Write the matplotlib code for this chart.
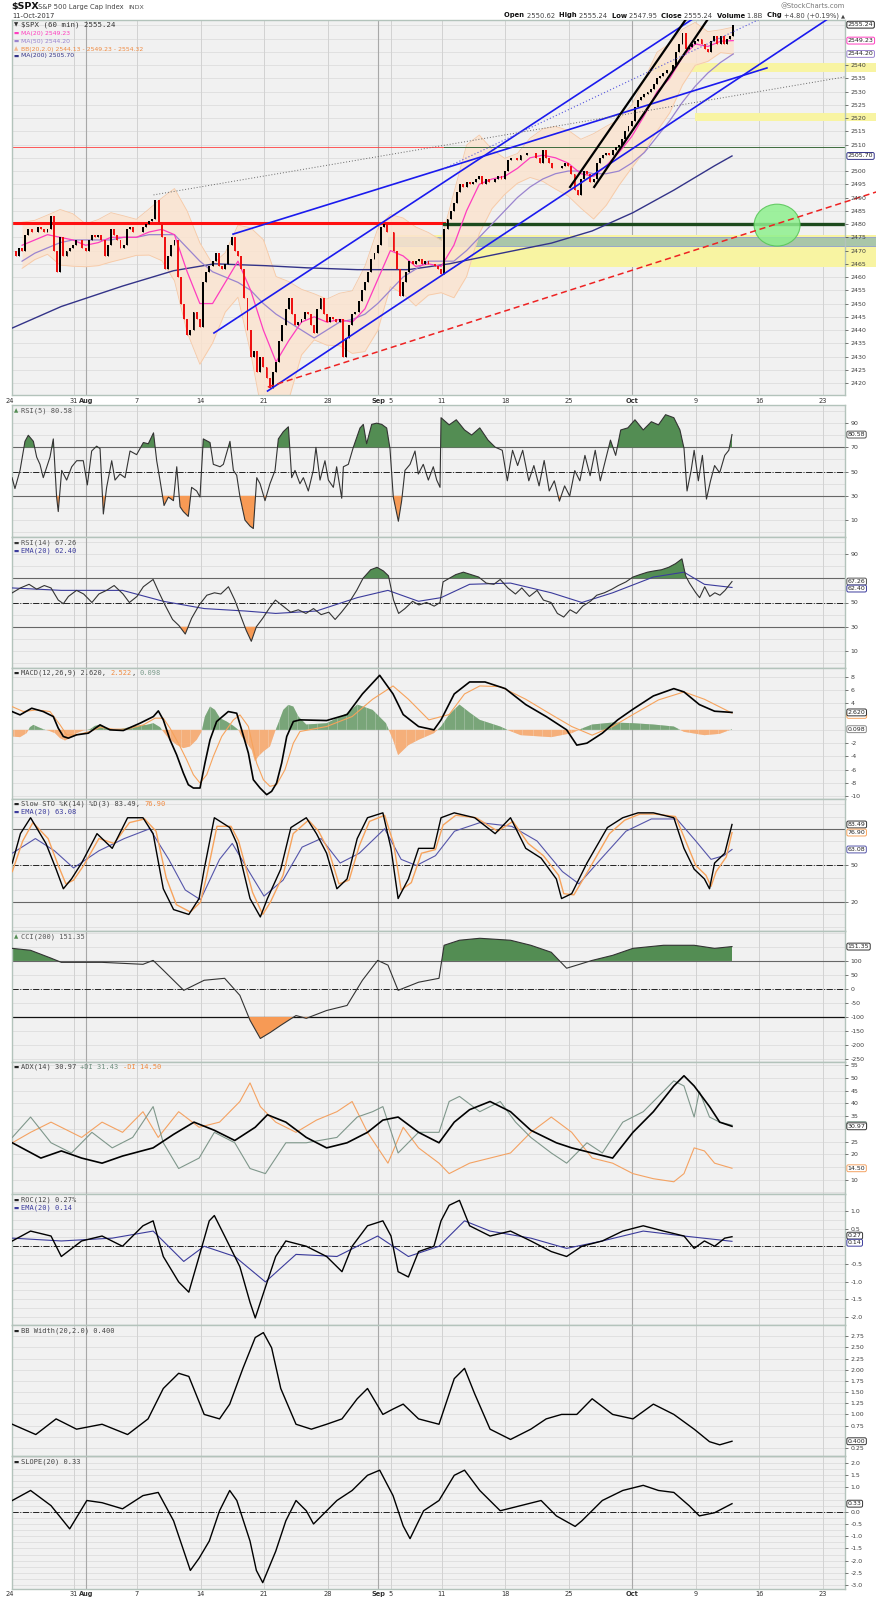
import numpy as np
import matplotlib
matplotlib.use("Agg")
import matplotlib.pyplot as plt
from matplotlib.patches import Ellipse, Rectangle, PathPatch

# ---------------------------------------------------------------- data
# trading-day axis: Jul 24 2017 = day 0 ... Oct 11 2017 = day 56
date_pos = [0, 5, 6, 10, 15, 20, 25, 29, 30, 34, 39, 44, 49, 54, 59, 64]
date_lab = ['24', '31', 'Aug', '7', '14', '21', '28', 'Sep', '5', '11', '18', '25', 'Oct', '9', '16', '23']
date_bold = ['Aug', 'Sep', 'Oct']
week_lines = [0, 5, 10, 15, 20, 25, 30, 34, 39, 44, 49, 54, 59, 64]
month_lines = [6, 29, 49]

# $SPX 60-min, four readings per session
price = [2470, 2468, 2471, 2470,  2476, 2478, 2477, 2477,  2479, 2478, 2477, 2478,
         2483, 2470, 2462, 2475,  2468, 2470, 2471, 2472,  2474, 2474, 2471, 2470,
         2474, 2476, 2475, 2476,  2474, 2468, 2472, 2478,  2476, 2474, 2471, 2472,
         2478, 2479, 2477, 2477,  2477, 2479, 2480, 2481,  2482, 2489, 2480, 2475,
         2463, 2468, 2472, 2474,  2460, 2450, 2444, 2438,  2440, 2447, 2444, 2441,
         2458, 2462, 2464, 2466,  2469, 2464, 2463, 2465,  2472, 2475, 2470, 2468,
         2463, 2452, 2440, 2430,  2432, 2424, 2430, 2426,  2422, 2418, 2424, 2428,
         2436, 2442, 2448, 2452,  2446, 2442, 2443, 2444,  2447, 2446, 2442, 2439,
         2448, 2452, 2446, 2443,  2445, 2444, 2443, 2444,  2430, 2437, 2442, 2446,
         2447, 2451, 2455, 2458,  2462, 2467, 2469, 2472,  2479, 2480, 2477, 2477,
         2470, 2463, 2453, 2458,  2462, 2466, 2465, 2466,  2467, 2465, 2466, 2465,
         2465, 2464, 2463, 2461,  2478, 2482, 2485, 2488,  2492, 2495, 2494, 2496,
         2495, 2496, 2497, 2498,  2495, 2497, 2496, 2496,  2497, 2498, 2497, 2500,
         2504, 2505, 2505, 2504,  2506, 2506, 2507, 2507,  2507, 2505, 2503, 2508,
         2505, 2503, 2501, 2501,  2501, 2502, 2503, 2502,  2499, 2493, 2491, 2497,
         2500, 2499, 2496, 2497,  2503, 2505, 2506, 2507,  2506, 2508, 2509, 2510,
         2512, 2515, 2517, 2519,  2524, 2527, 2528, 2529,  2530, 2531, 2533, 2535,
         2536, 2537, 2538, 2538,  2540, 2545, 2548, 2552,  2546, 2547, 2548, 2549,
         2550, 2548, 2546, 2545,  2549, 2551, 2548, 2551,  2548, 2550, 2551, 2555.24]

# daily (end of session) overlays
ma20 = [2472, 2474, 2476, 2475, 2474, 2472, 2473, 2475, 2475, 2475,
        2477, 2478, 2476, 2462, 2450, 2450, 2458, 2466, 2455, 2440,
        2428, 2436, 2443, 2445, 2443, 2444, 2443, 2448, 2459, 2470,
        2468, 2464, 2465, 2464, 2472, 2485, 2495, 2497, 2498, 2501,
        2505, 2506, 2505, 2503, 2499, 2498, 2502, 2507, 2513, 2521,
        2530, 2535, 2543, 2548, 2547, 2549, 2549.23]
bb_half = [8.7, 7.4, 7.4, 10.5, 9.9, 8.1, 8.7, 9.3, 8.1, 6.8,
           8.7, 11.8, 17.4, 22.9, 22.9, 14.9, 11.2, 13.6, 23.6, 34.1,
           32.2, 22.3, 12.4, 8.7, 8.7, 9.9, 11.8, 16.1, 19.2, 13.6,
           14.3, 14.9, 11.8, 9.9, 19.8, 24.8, 18.6, 11.2, 6.8, 5.6,
           7.4, 9.9, 11.8, 12.4, 13.0, 16.1, 14.9, 12.4, 11.8, 13.6,
           14.9, 13.0, 10.5, 8.1, 5.6, 4.3, 5.09]
ma50 = [2466, 2469, 2471, 2473, 2474, 2474, 2474, 2474, 2475, 2475,
        2476, 2476, 2476, 2471, 2466, 2462, 2460, 2458, 2455, 2450,
        2446, 2443, 2440, 2437, 2440, 2443, 2444, 2446, 2450, 2455,
        2460, 2463, 2466, 2466, 2466, 2470, 2475, 2480, 2485, 2490,
        2494, 2497, 2499, 2500, 2500, 2499, 2499, 2500, 2503, 2507,
        2513, 2519, 2526, 2532, 2537, 2541, 2544.2]
ma200 = [(0.0, 2440.4), (4.04, 2448.9), (8.86, 2456.6), (12.88, 2462.4), (16.09, 2465.0),
         (20.11, 2464.3), (23.33, 2463.5), (27.34, 2462.8), (31.37, 2462.8), (34.58, 2465.0),
         (39.41, 2469.7), (42.62, 2472.8), (45.84, 2477.4), (49.05, 2484.3), (52.27, 2492.8),
         (55.48, 2502.0), (56.85, 2505.7)]

# annotations drawn on the price panel (day, price)
blue_lines = [((16.06, 2438.9), (60.0, 2577.0)),
              ((20.28, 2417.0), (64.4, 2557.4)),
              ((17.56, 2476.2), (59.6, 2538.9))]
black_lines = [((44.1, 2494.0), (53.4, 2558.5)),
               ((46.0, 2494.0), (55.0, 2557.7))]
red_dash = ((20.3, 2418.5), (68.2, 2492.1))
gray_dots = ((11.3, 2491.0), (65.7, 2535.5))
blue_dots = ((34.2, 2501.0), (62.2, 2564.5))
yellow_bands = [(2537.4, 2540.8, 50.6), (2518.9, 2521.9, 53.9), (2463.8, 2475.8, 29.8)]
gray_band = (2471.7, 2475.0, 29.8)
level_split = 34.2
thick_level = 2480.5
thin_level = 2509.0
circle = (60.4, 2479.6, 3.62, 15.8)

rsi5 = [(0.16, 45), (0.39, 36), (0.79, 51), (1.18, 75), (1.44, 80), (1.84, 75), (2.1, 62), (2.36, 56),
        (2.62, 45), (3.15, 62), (3.41, 77), (3.67, 29), (3.8, 17), (4.07, 51), (4.46, 43), (4.86, 54),
        (5.25, 59), (5.77, 59), (6.09, 39), (6.43, 67), (6.82, 71), (7.09, 69), (7.35, 15), (7.61, 37),
        (8.01, 59), (8.27, 43), (8.66, 48), (9.06, 45), (9.45, 67), (9.97, 64), (10.5, 74), (10.89, 73),
        (11.3, 82), (11.55, 59), (11.81, 43), (12.13, 22), (12.47, 29), (12.87, 26), (13.13, 54),
        (13.39, 21), (13.65, 17), (14.04, 13), (14.3, 37), (14.7, 34), (14.96, 29), (15.22, 77),
        (15.75, 74), (16.01, 56), (16.54, 54), (16.8, 56), (17.32, 75), (17.59, 51), (17.85, 47),
        (18.11, 29), (18.5, 10), (18.9, 5), (19.16, 3), (19.43, 45), (19.69, 40), (20.08, 26),
        (20.47, 40), (20.87, 51), (21.13, 77), (21.52, 83), (21.92, 87), (22.18, 45), (22.44, 51),
        (22.83, 40), (23.1, 45), (23.49, 34), (23.88, 51), (24.09, 70), (24.41, 43), (24.8, 59),
        (25.07, 43), (25.46, 37), (25.72, 54), (26.12, 28), (26.25, 54), (26.64, 56), (27.03, 70),
        (27.56, 86), (27.82, 89), (28.08, 73), (28.48, 89), (28.87, 90), (29.27, 89), (29.66, 86),
        (29.92, 69), (30.18, 29), (30.58, 9), (30.84, 26), (31.1, 51), (31.5, 56), (31.89, 67),
        (32.15, 48), (32.54, 56), (32.94, 43), (33.33, 54), (33.6, 43), (33.86, 37), (33.94, 94.5),
        (34.58, 88.6), (35.14, 92.8), (35.79, 84.4), (36.35, 80.2), (36.99, 86.1), (37.64, 76),
        (38.2, 70.2), (38.76, 67.6), (39.16, 42.4), (39.57, 67.6), (39.97, 55), (40.37, 67.6),
        (40.85, 42.4), (41.25, 55), (41.66, 38.2), (42.06, 59.2), (42.46, 34), (42.86, 42.4),
        (43.26, 25.6), (43.67, 38.2), (44.07, 29.8), (44.47, 50.8), (44.87, 42.4), (45.27, 63.4),
        (45.68, 46.6), (46.08, 67.6), (46.48, 42.4), (46.88, 59.2), (47.28, 76), (47.69, 63.4),
        (48.09, 84.4), (48.65, 86.1), (49.21, 92.8), (49.86, 84.4), (50.5, 91.2), (51.06, 88.6),
        (51.62, 97), (52.27, 94.5), (52.75, 84.4), (53.07, 69.3), (53.31, 34), (53.63, 50.8),
        (53.87, 67.6), (54.2, 42.4), (54.52, 63.4), (54.84, 27.3), (55.16, 42.4), (55.48, 55),
        (55.88, 49), (56.28, 63.4), (56.6, 67.6), (56.85, 80.58)]

rsi14 = [(0.18, 58), (0.82, 62), (1.5, 65), (2.1, 61), (2.7, 64), (3.23, 62), (3.8, 52), (4.2, 49),
         (4.6, 55), (5.24, 60), (5.8, 57), (6.45, 50), (7.0, 57), (7.6, 60), (8.2, 64), (8.9, 57),
         (9.4, 50), (10.0, 55), (10.5, 63), (11.27, 69), (11.7, 59), (12.2, 48), (12.8, 36), (13.3, 31),
         (13.8, 24), (14.3, 37), (14.9, 48), (15.5, 56), (16.1, 58), (16.6, 57), (17.2, 63), (17.7, 52),
         (18.2, 38), (18.6, 27), (19.0, 18), (19.4, 30), (19.9, 37), (20.4, 45), (20.9, 52), (21.5, 47),
         (22.1, 42), (22.7, 44), (23.3, 41), (23.9, 45), (24.5, 40), (25.1, 42), (25.6, 36), (26.1, 42),
         (26.7, 50), (27.3, 60), (27.8, 70), (28.4, 77), (28.9, 79), (29.4, 76), (29.8, 72), (30.2, 52),
         (30.6, 41), (31.1, 45), (31.7, 51), (32.2, 48), (32.8, 50), (33.4, 47), (33.86, 50), (34.1, 67),
         (34.6, 70), (35.1, 73), (35.7, 75), (36.3, 73), (36.9, 71), (37.5, 66), (38.1, 65), (38.6, 69),
         (39.2, 62), (39.8, 57), (40.3, 62), (40.9, 55), (41.5, 60), (42.0, 52), (42.6, 50), (43.1, 41),
         (43.6, 38), (44.1, 44), (44.6, 41), (45.1, 47), (45.7, 51), (46.2, 56), (46.8, 58), (47.4, 61),
         (47.9, 64), (48.5, 67), (49.05, 71), (49.6, 73), (50.2, 75), (50.7, 76), (51.3, 77), (51.86, 79),
         (52.4, 82), (52.91, 86), (53.2, 72), (53.5, 66), (54.0, 58), (54.3, 54), (54.7, 63), (55.1, 55),
         (55.5, 58), (55.9, 56), (56.3, 60), (56.85, 67.26)]
rsi14_ema = [(0.18, 62), (4.04, 60), (8.86, 60), (12.07, 51), (15.29, 45), (18.5, 43), (20.92, 41),
             (24.13, 43), (27.34, 54), (29.76, 60), (32.17, 51), (33.94, 54), (36.19, 65), (39.41, 66),
             (42.62, 58), (45.03, 50), (47.45, 58), (50.66, 71), (53.07, 75), (54.68, 65), (56.85, 62.4)]

macd = [(0.16, 2.75), (0.79, 2.25), (1.71, 3.25), (2.62, 2.75), (3.41, 2.0), (3.8, 0.25), (4.2, -1.0),
        (4.59, -1.25), (5.25, -0.75), (6.17, -0.5), (7.09, 0.75), (7.87, 0.0), (8.92, -0.1), (10.24, 1.0),
        (11.29, 2.0), (11.68, 2.85), (12.07, 1.5), (12.6, -1.5), (13.12, -3.75), (13.65, -6.5),
        (14.04, -8.25), (14.44, -8.75), (14.96, -8.75), (15.35, -5.0), (15.75, -1.5), (16.27, 1.25),
        (17.19, 2.75), (17.85, 2.5), (18.24, 0.0), (18.77, -3.5), (19.16, -7.5), (19.69, -8.75),
        (20.21, -9.75), (20.6, -9.25), (20.99, -8.0), (21.39, -5.0), (21.79, -1.0), (22.31, 1.25),
        (22.83, 1.5), (24.93, 1.4), (26.54, 2.3), (27.75, 5.4), (29.11, 8.2), (30.16, 5.4),
        (30.96, 2.3), (32.17, 0.5), (33.38, 0.0), (33.94, 1.5), (34.98, 5.4), (36.19, 7.2),
        (37.4, 7.2), (39.0, 6.2), (40.61, 3.8), (42.22, 2.0), (43.83, 0.0), (44.63, -2.3),
        (45.43, -2.0), (46.64, -0.5), (47.85, 1.5), (49.05, 3.1), (50.66, 5.1), (52.27, 6.2),
        (53.07, 5.7), (54.28, 3.8), (55.48, 2.8), (56.85, 2.62)]
macd_sig = [(0.16, 3.5), (1.05, 2.75), (2.1, 3.0), (3.15, 2.75), (3.94, 0.75), (4.46, -0.75),
            (5.25, -0.75), (6.3, -0.25), (7.09, 0.4), (8.14, 0.1), (9.19, 0.1), (10.5, 0.75),
            (11.42, 1.75), (12.07, 1.75), (12.6, 0.25), (13.39, -2.5), (13.91, -4.5), (14.44, -6.75),
            (14.96, -8.0), (15.49, -6.75), (16.01, -4.0), (16.67, -1.0), (17.59, 1.5), (18.11, 2.25),
            (18.77, 0.5), (19.42, -5.0), (19.95, -7.5), (20.47, -8.5), (20.99, -8.25), (21.65, -6.0),
            (22.31, -2.0), (22.83, -0.25), (24.93, 0.5), (26.94, 2.0), (28.55, 4.6), (30.16, 6.6),
            (31.37, 4.6), (32.98, 1.5), (34.58, 2.3), (35.79, 5.4), (36.99, 6.6), (38.6, 6.5),
            (40.61, 4.6), (42.62, 2.3), (44.23, 0.5), (45.84, -0.8), (47.45, 0.5), (49.05, 2.3),
            (51.06, 4.5), (53.07, 5.7), (54.68, 4.6), (56.85, 2.52)]
macd_hist = [(0.16, -1.0), (0.79, -1.1), (1.31, -0.5), (1.57, 0.4), (1.84, 0.75), (2.23, 0.4),
             (2.62, 0.1), (3.02, -0.1), (3.54, -0.5), (3.94, -1.25), (4.33, -1.6), (4.72, -1.25),
             (5.25, -0.5), (5.77, -0.1), (6.3, 0.1), (6.69, 0.6), (7.09, 0.75), (7.61, 0.25),
             (8.14, -0.1), (8.66, 0.1), (9.45, 0.4), (9.97, 0.6), (10.76, 0.75), (11.29, 1.0),
             (11.81, 0.4), (12.07, -0.25), (12.47, -1.25), (13.12, -2.25), (13.65, -2.75),
             (14.17, -2.5), (14.7, -1.5), (15.09, -0.25), (15.35, 2.0), (15.75, 3.5), (16.14, 3.0),
             (16.54, 1.75), (17.06, 1.25), (17.59, 0.6), (17.98, 0.0), (18.24, -1.0), (18.64, -2.0),
             (19.03, -3.0), (19.29, -4.75), (19.55, -4.0), (19.95, -3.25), (20.47, -2.5),
             (20.87, -0.25), (21.13, 1.0), (21.52, 3.0), (21.92, 3.75), (22.31, 3.5), (22.71, 2.0),
             (23.33, 0.8), (24.93, 1.0), (26.54, 2.5), (27.34, 3.8), (28.55, 3.0), (29.6, 1.0),
             (30.16, -1.5), (30.56, -3.8), (31.37, -2.3), (32.17, -1.5), (33.38, -0.5), (33.94, 0.5),
             (34.58, 2.3), (35.39, 3.8), (36.19, 2.6), (36.99, 1.5), (38.6, 0.5), (39.41, -0.2),
             (40.21, -0.8), (42.62, -1.1), (44.23, -0.5), (45.03, 0.2), (45.84, 0.8), (47.45, 1.1),
             (49.05, 1.0), (50.66, 0.8), (52.27, 0.5), (53.07, -0.3), (54.68, -0.8), (55.88, -0.6),
             (56.85, 0.098)]

sto_k = [(0.18, 52), (0.82, 76), (1.62, 89), (2.83, 68), (3.63, 47), (4.2, 31), (4.84, 39), (5.64, 52),
         (6.85, 76), (8.05, 64), (9.26, 89), (10.47, 89), (11.27, 76), (12.07, 31), (12.88, 14),
         (14.08, 10), (14.89, 23), (15.29, 47), (16.09, 89), (17.3, 81), (17.86, 68), (18.9, 23),
         (19.71, 8), (20.27, 23), (21.32, 47), (22.12, 81), (23.33, 89), (24.13, 76), (24.93, 60),
         (25.74, 31), (26.54, 39), (27.34, 72), (28.15, 89), (29.36, 93), (30.0, 64), (30.56, 23),
         (31.37, 39), (32.17, 64), (33.38, 64), (33.94, 89), (34.98, 93), (36.59, 89), (38.2, 76),
         (39.41, 89), (40.61, 64), (41.82, 56), (43.02, 39), (43.43, 23), (44.23, 27), (45.43, 52),
         (47.04, 81), (48.25, 89), (49.45, 93), (50.66, 93), (52.27, 89), (53.07, 64), (53.87, 47),
         (54.68, 39), (55.08, 31), (55.48, 52), (56.28, 60), (56.85, 83.49)]
sto_d = [(0.18, 45), (1.0, 70), (1.8, 85), (3.0, 72), (3.8, 50), (4.4, 35), (5.0, 38), (5.8, 50),
         (7.0, 72), (8.2, 68), (9.4, 85), (10.6, 88), (11.5, 78), (12.3, 40), (13.1, 18), (14.2, 12),
         (15.0, 20), (15.5, 42), (16.3, 82), (17.4, 82), (18.0, 70), (19.1, 28), (19.9, 10), (20.5, 20),
         (21.5, 42), (22.3, 76), (23.5, 87), (24.3, 78), (25.1, 62), (25.9, 35), (26.7, 38), (27.5, 66),
         (28.3, 86), (29.5, 91), (30.2, 68), (30.8, 30), (31.6, 36), (32.4, 60), (33.5, 63), (34.1, 83),
         (35.1, 91), (36.7, 89), (38.4, 78), (39.6, 86), (40.8, 68), (42.0, 58), (43.2, 42), (43.6, 27),
         (44.4, 26), (45.6, 47), (47.2, 76), (48.4, 87), (49.6, 92), (50.8, 92), (52.4, 90), (53.2, 70),
         (54.0, 50), (54.8, 42), (55.2, 33), (55.6, 45), (56.4, 57), (56.85, 76.9)]
sto_ema = [(0.18, 60), (2.0, 72), (3.5, 62), (5.0, 48), (7.0, 62), (9.0, 72), (11.0, 80), (12.5, 55),
           (13.8, 30), (15.0, 22), (16.5, 55), (17.5, 68), (19.0, 42), (20.0, 25), (21.5, 38), (23.0, 65),
           (24.5, 72), (26.0, 52), (27.5, 60), (29.5, 80), (30.8, 55), (32.0, 50), (33.5, 58), (35.0, 78),
           (37.0, 85), (39.5, 82), (41.5, 70), (43.5, 45), (44.8, 35), (46.5, 55), (48.5, 78), (50.5, 88),
           (52.5, 88), (54.0, 70), (55.2, 55), (56.2, 58), (56.85, 63.08)]

cci = [(0.18, 145), (1.62, 138), (3.23, 110), (4.04, 95), (7.25, 95), (10.47, 88), (11.27, 102),
       (12.07, 67), (13.68, -5), (15.29, 31), (16.9, 38), (18.1, -23), (18.9, -112), (19.71, -177),
       (20.51, -155), (21.32, -130), (22.52, -95), (23.33, -105), (24.93, -77), (26.54, -59),
       (27.75, 31), (28.95, 102), (29.76, 85), (30.56, -5), (32.17, 24), (33.78, 38), (34.18, 156),
       (35.39, 174), (36.99, 181), (39.41, 174), (41.01, 156), (42.62, 131), (43.83, 74), (44.63, 85),
       (45.84, 102), (47.45, 120), (49.05, 145), (51.46, 156), (53.87, 156), (55.48, 145), (56.85, 151.35)]

adx = [(0.18, 24.5), (2.43, 18.5), (4.04, 21.3), (5.64, 18.5), (7.25, 16.5), (8.86, 19.3), (11.27, 22.5),
       (12.88, 27.8), (14.49, 32.6), (16.09, 29.4), (17.7, 25.4), (19.31, 30.6), (20.27, 35.5),
       (21.72, 32.6), (23.33, 26.6), (24.93, 22.5), (26.54, 24.5), (28.15, 28.6), (29.36, 33.4),
       (30.56, 34.6), (32.17, 28.6), (33.78, 24.5), (34.98, 32.6), (36.19, 37.5), (37.8, 40.7),
       (39.41, 36.7), (41.01, 29.4), (43.02, 24.5), (44.23, 22.5), (45.84, 20.5), (47.45, 18.5),
       (49.05, 28.6), (50.66, 36.7), (52.27, 46.8), (53.07, 50.8), (53.87, 46.8), (55.08, 38.7),
       (55.88, 32.6), (56.85, 30.97)]
plus_di = [(0.18, 26.6), (1.62, 34.6), (3.23, 24.5), (4.84, 20.5), (6.45, 28.6), (8.05, 22.5), (9.66, 26.6),
           (11.27, 38.7), (12.07, 24.5), (13.28, 14.4), (14.89, 18.5), (16.09, 28.6), (17.7, 24.5),
           (18.9, 14.4), (20.11, 12.4), (21.72, 24.5), (23.33, 24.5), (25.74, 26.6), (27.34, 34.6),
           (28.55, 36.7), (29.36, 38.7), (30.56, 20.5), (32.17, 28.6), (33.78, 28.6), (34.58, 40.7),
           (35.39, 42.7), (36.99, 36.7), (38.6, 40.7), (39.81, 32.6), (41.01, 26.6), (42.62, 20.5),
           (43.83, 16.5), (45.43, 24.5), (46.64, 20.5), (48.25, 32.6), (49.86, 36.7), (51.46, 44.7),
           (52.27, 48.8), (53.07, 46.8), (53.87, 34.6), (54.28, 44.7), (55.08, 34.6), (55.88, 32.6),
           (56.85, 31.43)]
minus_di = [(0.18, 24.5), (1.62, 28.6), (3.23, 32.6), (5.64, 26.6), (7.25, 32.6), (8.86, 28.6), (10.47, 36.7),
            (11.67, 26.6), (13.28, 36.7), (14.89, 30.6), (16.5, 32.6), (18.1, 40.7), (18.9, 48.0),
            (19.71, 38.7), (20.92, 32.6), (22.52, 28.6), (24.13, 33.4), (25.74, 36.7), (26.94, 40.7),
            (28.15, 28.6), (29.76, 16.5), (30.96, 30.6), (32.17, 22.5), (33.78, 16.5), (34.58, 12.4),
            (36.19, 16.5), (37.8, 18.5), (39.41, 20.5), (41.01, 28.6), (42.62, 34.6), (44.23, 28.6),
            (45.84, 18.5), (47.45, 16.5), (49.05, 12.4), (50.66, 10.4), (52.27, 9.2), (53.07, 12.4),
            (53.87, 22.5), (54.68, 21.3), (55.48, 16.5), (56.85, 14.5)]

roc = [(0.18, 0.15), (1.62, 0.43), (3.23, 0.29), (4.04, -0.29), (5.64, 0.15), (7.25, 0.29), (8.86, 0.0),
       (10.47, 0.58), (11.27, 0.72), (12.07, -0.29), (13.28, -1.01), (14.08, -1.3), (14.89, -0.29),
       (15.69, 0.72), (16.09, 0.87), (16.9, 0.29), (18.1, -0.58), (18.9, -1.59), (19.31, -2.03),
       (20.11, -1.16), (20.92, -0.29), (21.72, 0.15), (23.33, 0.0), (24.93, -0.29), (26.14, -0.72),
       (26.94, 0.0), (28.15, 0.58), (29.36, 0.72), (30.0, 0.29), (30.56, -0.72), (31.37, -0.87),
       (32.17, -0.15), (33.38, 0.0), (33.94, 0.72), (34.58, 1.16), (35.39, 1.3), (36.19, 0.58),
       (37.8, 0.29), (39.41, 0.43), (41.01, 0.15), (42.62, -0.15), (43.83, -0.29), (45.03, 0.0),
       (46.64, 0.15), (48.25, 0.43), (49.86, 0.58), (51.46, 0.43), (53.07, 0.29), (53.87, -0.06),
       (54.68, 0.15), (55.48, 0.0), (56.28, 0.23), (56.85, 0.27)]
roc_ema = [(0.18, 0.23), (4.04, 0.15), (8.05, 0.23), (11.27, 0.43), (13.68, -0.43), (15.29, 0.0),
           (17.7, -0.29), (20.11, -1.01), (22.52, -0.23), (25.74, -0.29), (28.95, 0.29), (31.37, -0.29),
           (33.78, 0.0), (35.79, 0.72), (37.8, 0.43), (41.01, 0.23), (43.83, -0.06), (46.64, 0.15),
           (49.86, 0.43), (53.07, 0.29), (56.85, 0.14)]

bbw = [(0.18, 0.78), (2.03, 0.55), (3.63, 0.9), (5.24, 0.67), (7.25, 0.78), (9.26, 0.55), (10.87, 0.9),
       (12.07, 1.58), (13.28, 1.92), (14.08, 1.85), (15.29, 1.0), (16.5, 0.9), (17.3, 1.23), (18.34, 2.03),
       (19.31, 2.72), (19.95, 2.83), (20.6, 2.49), (21.32, 1.58), (22.52, 0.78), (23.73, 0.67),
       (24.93, 0.78), (26.14, 0.9), (27.34, 1.35), (28.15, 1.58), (29.36, 1.0), (30.16, 1.12),
       (30.96, 1.23), (32.17, 0.9), (33.78, 0.78), (34.98, 1.8), (35.79, 2.03), (36.59, 1.46),
       (37.8, 0.67), (39.41, 0.44), (41.01, 0.67), (42.22, 0.9), (43.43, 1.0), (44.63, 1.0),
       (45.84, 1.35), (47.45, 1.0), (49.05, 0.9), (50.66, 1.23), (52.27, 1.0), (53.87, 0.67),
       (55.08, 0.39), (55.88, 0.32), (56.85, 0.40)]

slope = [(0.18, 0.46), (1.62, 0.87), (3.23, 0.25), (4.7, -0.7), (6.05, 0.46), (7.25, 0.37), (8.86, 0.12),
         (10.47, 0.66), (11.67, 0.79), (12.88, -0.37), (14.2, -2.4), (14.89, -1.9), (15.69, -1.2),
         (16.5, 0.04), (17.3, 0.87), (17.86, 0.46), (18.9, -1.2), (19.4, -2.4), (19.9, -2.9),
         (20.92, -1.62), (21.72, -0.37), (22.52, 0.46), (23.33, 0.04), (23.9, -0.5), (25.74, 0.46),
         (26.94, 0.87), (28.15, 1.49), (29.11, 1.7), (30.16, 0.66), (30.96, -0.58), (31.5, -1.1),
         (32.57, 0.04), (33.78, 0.46), (34.98, 1.49), (35.79, 1.7), (36.99, 0.87), (38.6, 0.04),
         (40.21, 0.25), (41.82, 0.46), (43.02, -0.17), (44.5, -0.6), (45.03, -0.37), (46.64, 0.46),
         (48.25, 0.87), (49.86, 1.08), (51.06, 0.87), (52.27, 0.79), (53.47, 0.25), (54.28, -0.17),
         (55.48, -0.04), (56.85, 0.33)]

# ---------------------------------------------------------------- layout
W, H = 876, 1600
fig = plt.figure(figsize=(W / 100, H / 100), dpi=100)
fig.patch.set_facecolor('white')
rend = fig.canvas.get_renderer()

PX0, PX1 = 12, 845


def dx(px):
    return (px - 10) / 12.7


XL, XR, XEDGE = dx(PX0), dx(PX1), dx(W)
GREEN = '#538d53'
ORANGE = '#f79a55'
NAVY = '#3b3b9c'
TXT = '#404040'
MONO = 'DejaVu Sans Mono'
LEG = 5.0      # indicator legend size (monospace)
TICK = 4.5


def panel(top, bottom, ylim, step, ticks, fmt='{:g}'):
    ax = fig.add_axes([PX0 / W, 1 - bottom / H, (PX1 - PX0) / W, (bottom - top) / H])
    ax.set_facecolor('#f1f1f1')
    ax.set_xlim(XL, XR)
    ax.set_ylim(*ylim)
    ax.set_xticks([])
    ax.yaxis.tick_right()
    ax.set_yticks(ticks)
    ax.set_yticklabels([fmt.format(t) for t in ticks])
    ax.tick_params(axis='y', labelsize=TICK, colors=TXT, length=2.5, width=0.5, pad=1.5)
    for s in ax.spines.values():
        s.set_color('#b3c3bb')
        s.set_linewidth(1.0)
    g0 = np.ceil(ylim[0] / step) * step
    for g in np.arange(g0, ylim[1], step):
        ax.axhline(g, color='#dddddd', lw=0.6, zorder=0.5)
    for d in week_lines:
        ax.axvline(d, color='#d2d2d2', lw=0.7, zorder=0.5)
    for d in month_lines:
        ax.axvline(d, color='#a8a8a8', lw=0.8, zorder=0.6)
    ax.yaxis.set_zorder(10)
    return ax


def seq(x, y, parts, size=LEG, family=MONO):
    for txt, col in parts:
        t = fig.text(x / W, 1 - y / H, txt, fontsize=size, color=col, va='center', ha='left',
                     family=family)
        x += t.get_window_extent(rend).width
    return x


def legend(y, parts, icon_col, icon='\u25ac', size=LEG, family=MONO):
    fig.text(14 / W, 1 - y / H, icon, fontsize=4.0, color=icon_col, va='center', ha='left')
    seq(21, y, parts, size, family)


def seq_right(xend, y, parts):
    texts = []
    for txt, col, size, wt in parts:
        texts.append(fig.text(0, 1 - y / H, txt, fontsize=size, color=col, fontweight=wt,
                              va='center', ha='left'))
    widths = [t.get_window_extent(rend).width for t in texts]
    x = xend - sum(widths)
    for t, w in zip(texts, widths):
        t.set_x(x / W)
        x += w


def tag(ax, val, text, ec, tc='#222222'):
    ax.annotate(text, xy=(1.0, val), xycoords=('axes fraction', 'data'), xytext=(2.0, 0),
                textcoords='offset points', fontsize=4.5, color=tc, va='center', ha='left',
                annotation_clip=False, zorder=20,
                bbox=dict(boxstyle='round,pad=0.15,rounding_size=0.25', fc='white', ec=ec, lw=0.7))


def xy(series):
    a = np.array(series, dtype=float)
    return a[:, 0], a[:, 1]


def stripes(ax, coll, ylim):
    # thin gaps so the histogram area reads as individual hourly bars
    for path in coll.get_paths():
        clip = PathPatch(path, transform=ax.transData, fc='none', ec='none')
        ax.add_patch(clip)
        lc = ax.vlines(np.arange(0, 57, 1 / 7), ylim[0], ylim[1], colors='#f1f1f1', lw=0.35, zorder=2.1)
        lc.set_clip_path(clip)


def date_row(y):
    for d, lab in zip(date_pos, date_lab):
        fig.text((10 + 12.7 * d) / W, 1 - y / H, lab, fontsize=4.8, color='#333333', ha='center',
                 va='center', fontweight='bold' if lab in date_bold else 'normal')


# ---------------------------------------------------------------- header
fig.text(11 / W, 1 - 7 / H, '\\$SPX', fontsize=6.8, color='#111111', fontweight='bold', va='center')
fig.text(38 / W, 1 - 7.5 / H, 'S&P 500 Large Cap Index', fontsize=4.9, color='#444444', va='center')
fig.text(128 / W, 1 - 7.5 / H, 'INDX', fontsize=4.5, color='#555555', va='center')
fig.text(12 / W, 1 - 15.5 / H, '11-Oct-2017', fontsize=4.9, color='#333333', va='center')
fig.text(845 / W, 1 - 6 / H, '@StockCharts.com', fontsize=4.9, color='#777777', va='center', ha='right')
HS = 4.85
seq_right(845, 15.5, [('Open ', '#111', HS, 'bold'), ('2550.62  ', '#444', HS, 'normal'),
                      ('High ', '#111', HS, 'bold'), ('2555.24  ', '#444', HS, 'normal'),
                      ('Low ', '#111', HS, 'bold'), ('2547.95  ', '#444', HS, 'normal'),
                      ('Close ', '#111', HS, 'bold'), ('2555.24  ', '#444', HS, 'normal'),
                      ('Volume ', '#111', HS, 'bold'), ('1.8B  ', '#444', HS, 'normal'),
                      ('Chg ', '#111', HS, 'bold'), ('+4.80 (+0.19%) ', '#444', HS, 'normal'),
                      ('\u25b2', '#444', 3.8, 'normal')])

# ---------------------------------------------------------------- price panel
main_ticks = [v for v in range(2420, 2545, 5) if v != 2505]
ax = panel(20, 395, (2415.5, 2557), 5, main_ticks)
days = np.arange(len(ma20)) + 0.95
for lo, hi, x0 in yellow_bands:
    ax.add_patch(Rectangle((x0, lo), XEDGE - x0, hi - lo, fc='#f8f4a2', ec='none', clip_on=False, zorder=1))
ax.add_patch(Rectangle((gray_band[2], gray_band[0]), XEDGE - gray_band[2], gray_band[1] - gray_band[0],
                       fc='#a9c6a9', ec='#8f9fd0', lw=0.6, clip_on=False, zorder=1.1))
mid = np.array(ma20)
half = np.array(bb_half)
ax.fill_between(days, mid - half, mid + half, color='#fbe3cf', alpha=0.85, lw=0, zorder=1.5)
ax.plot(days, mid + half, color='#f6c9a6', lw=0.6, zorder=1.6)
ax.plot(days, mid - half, color='#f6c9a6', lw=0.6, zorder=1.6)
ax.plot([XL, level_split], [thick_level, thick_level], color='#ff1010', lw=2.2, zorder=2)
ax.plot([level_split, XR], [thick_level - 0.5, thick_level - 0.5], color='#1d4a1d', lw=2.4, zorder=2)
ax.plot([XL, level_split], [thin_level, thin_level], color='#ff4040', lw=0.6, zorder=2)
ax.plot([level_split, XR], [thin_level, thin_level], color='#3d6b3d', lw=0.7, zorder=2)
t200, v200 = xy(ma200)
ax.plot(t200, v200, color='#333388', lw=1.0, zorder=3)
ax.plot(days, ma50, color='#9a84cf', lw=0.9, zorder=3)
ax.plot(days, ma20, color='#ff3cbf', lw=0.9, zorder=3)

p = np.array(price, dtype=float)
nd = len(p) // 4
tp = np.repeat(np.arange(nd), 4) + np.tile([0.2, 0.45, 0.7, 0.95], nd)
op = np.r_[p[0], p[:-1]]
up = p >= op
ax.vlines(tp, op, p, colors=np.where(up, 'black', '#ee1111'), lw=0.6, zorder=4)
ax.bar(tp[up], p[up] - op[up], bottom=op[up], width=0.15, color='black', lw=0, zorder=4)
ax.bar(tp[~up], p[~up] - op[~up], bottom=op[~up], width=0.15, color='#ee1111', lw=0, zorder=4)

ax.add_patch(Ellipse((circle[0], circle[1]), circle[2], circle[3], fc='#8ff08f', ec='#55c455',
                     lw=0.8, alpha=0.85, zorder=4.5))
for (a, b) in blue_lines:
    ax.plot([a[0], b[0]], [a[1], b[1]], color='#1a1aee', lw=1.2, zorder=5)
for (a, b) in black_lines:
    ax.plot([a[0], b[0]], [a[1], b[1]], color='black', lw=1.6, zorder=5)
ax.plot([red_dash[0][0], red_dash[1][0]], [red_dash[0][1], red_dash[1][1]], color='#ee2222', lw=1.1,
        ls=(0, (4, 2.5)), zorder=5, clip_on=False)
ax.plot([gray_dots[0][0], gray_dots[1][0]], [gray_dots[0][1], gray_dots[1][1]], color='#666666', lw=0.7,
        ls=(0, (1, 2)), zorder=5)
ax.plot([blue_dots[0][0], blue_dots[1][0]], [blue_dots[0][1], blue_dots[1][1]], color='#5555dd', lw=0.8,
        ls=(0, (1, 2)), zorder=5)

tag(ax, 2555.24, '2555.24', '#222222')
tag(ax, 2549.23, '2549.23', '#ff3cbf')
tag(ax, 2544.20, '2544.20', '#9a84cf')
tag(ax, 2505.70, '2505.70', '#333388')
ML = 4.4
legend(25, [('\\$SPX (60 min) 2555.24', '#333333')], '#333333', icon='\u25bc', size=5.3)
legend(33, [('MA(20) 2549.23', '#ff3cbf')], '#ff3cbf', size=ML, family='DejaVu Sans')
legend(41, [('MA(50) 2544.20', '#9a84cf')], '#9a84cf', size=ML, family='DejaVu Sans')
legend(49, [('BB(20,2.0) 2544.13 - 2549.23 - 2554.32', '#f08a40')], '#f6b68a', icon='\u25b2', size=ML,
       family='DejaVu Sans')
legend(56, [('MA(200) 2505.70', '#333388')], '#333388', size=ML, family='DejaVu Sans')
date_row(401)

# ---------------------------------------------------------------- RSI(5)
ax = panel(405, 537, (-4, 105), 10, [10, 30, 50, 70, 90])
t, v = xy(rsi5)
ax.fill_between(t, v, 70, where=v >= 70, interpolate=True, color=GREEN, lw=0, zorder=2)
ax.fill_between(t, v, 30, where=v <= 30, interpolate=True, color=ORANGE, lw=0, zorder=2)
ax.axhline(70, color='#666666', lw=0.8, zorder=1)
ax.axhline(30, color='#666666', lw=0.8, zorder=1)
ax.axhline(50, color='#222222', lw=0.7, ls='-.', zorder=1)
ax.plot(t, v, color='#333333', lw=0.8, zorder=3)
tag(ax, 80.58, '80.58', '#555555')
legend(411, [('RSI(5) 80.58', '#555555')], GREEN, icon='\u25b2')

# ---------------------------------------------------------------- RSI(14)
ax = panel(537, 668, (-4, 104), 10, [10, 30, 50, 90])
t, v = xy(rsi14)
ax.fill_between(t, v, 70, where=v >= 70, interpolate=True, color=GREEN, lw=0, zorder=2)
ax.fill_between(t, v, 30, where=v <= 30, interpolate=True, color=ORANGE, lw=0, zorder=2)
ax.axhline(70, color='#666666', lw=0.8, zorder=1)
ax.axhline(30, color='#666666', lw=0.8, zorder=1)
ax.axhline(50, color='#222222', lw=0.7, ls='-.', zorder=1)
te, ve = xy(rsi14_ema)
ax.plot(te, ve, color=NAVY, lw=0.8, zorder=3)
ax.plot(t, v, color='#333333', lw=0.8, zorder=3)
tag(ax, 67.26, '67.26', '#555555')
tag(ax, 61.5, '62.40', NAVY)
legend(543, [('RSI(14) 67.26', '#555555')], '#333333')
legend(551, [('EMA(20) 62.40', NAVY)], NAVY)

# ---------------------------------------------------------------- MACD
macd_lim = (-10.4, 9.3)
ax = panel(668, 799, macd_lim, 2, [8, 6, 4, -2, -4, -6, -8, -10])
t, v = xy(macd_hist)
pos = ax.fill_between(t, v, 0, where=v >= 0, interpolate=True, color=GREEN, lw=0, zorder=2)
neg = ax.fill_between(t, v, 0, where=v <= 0, interpolate=True, color=ORANGE, lw=0, zorder=2)
stripes(ax, pos, macd_lim)
stripes(ax, neg, macd_lim)
ts, vs = xy(macd_sig)
ax.plot(ts, vs, color='#f7a35c', lw=0.8, zorder=3)
t, v = xy(macd)
ax.plot(t, v, color='black', lw=1.2, zorder=3)
tag(ax, 2.25, '2.522', '#f7a35c')
tag(ax, 2.62, '2.620', '#333333')
tag(ax, 0.098, '0.098', '#888888')
legend(673, [('MACD(12,26,9) 2.620, ', '#444444'), ('2.522', '#f08a40'), (', ', '#444444'),
             ('0.098', '#7a9a8a')], '#222222')

# ---------------------------------------------------------------- Slow STO
ax = panel(799, 931, (-3.5, 104.3), 10, [50, 20])
ax.axhline(80, color='#666666', lw=0.8, zorder=1)
ax.axhline(20, color='#666666', lw=0.8, zorder=1)
ax.axhline(50, color='#222222', lw=0.7, ls='-.', zorder=1)
te, ve = xy(sto_ema)
ax.plot(te, ve, color='#5555aa', lw=0.8, zorder=3)
td, vd = xy(sto_d)
ax.plot(td, vd, color='#f7a35c', lw=1.0, zorder=3)
t, v = xy(sto_k)
ax.plot(t, v, color='black', lw=1.0, zorder=3)
tag(ax, 83.49, '83.49', '#333333')
tag(ax, 76.90, '76.90', '#f7a35c')
tag(ax, 63.08, '63.08', '#5555aa')
legend(804, [('Slow STO %K(14) %D(3) 83.49, ', '#444444'), ('76.90', '#f08a40')], '#222222')
legend(812, [('EMA(20) 63.08', NAVY)], NAVY)

# ---------------------------------------------------------------- CCI(200)
ax = panel(931, 1062, (-261, 207), 50, [100, 50, 0, -50, -100, -150, -200, -250])
t, v = xy(cci)
ax.fill_between(t, v, 100, where=v >= 100, interpolate=True, color=GREEN, lw=0, zorder=2)
ax.fill_between(t, v, -100, where=v <= -100, interpolate=True, color=ORANGE, lw=0, zorder=2)
ax.axhline(100, color='#666666', lw=0.8, zorder=1)
ax.axhline(-100, color='#111111', lw=0.9, zorder=1)
ax.axhline(0, color='#222222', lw=0.7, ls='-.', zorder=1)
ax.plot(t, v, color='#333333', lw=0.8, zorder=3)
tag(ax, 151.35, '151.35', '#333333')
legend(937, [('CCI(200) 151.35', '#555555')], GREEN, icon='\u25b2')

# ---------------------------------------------------------------- ADX
ax = panel(1062, 1194, (4.4, 56.2), 5, [55, 50, 45, 40, 35, 25, 20, 10])
t, v = xy(minus_di)
ax.plot(t, v, color='#f4a262', lw=0.8, zorder=3)
t, v = xy(plus_di)
ax.plot(t, v, color='#7f978b', lw=0.8, zorder=3)
t, v = xy(adx)
ax.plot(t, v, color='black', lw=1.2, zorder=3)
tag(ax, 31.43, '31.43', '#7f978b')
tag(ax, 30.97, '30.97', '#333333')
tag(ax, 14.50, '14.50', '#f4a262')
legend(1067, [('ADX(14) 30.97 ', '#444444'), ('+DI 31.43 ', '#6f8f7f'), ('-DI 14.50', '#f08a40')], '#222222')

# ---------------------------------------------------------------- ROC
ax = panel(1194, 1325, (-2.23, 1.48), 0.25, [1.0, 0.5, -0.5, -1.0, -1.5, -2.0], fmt='{:.1f}')
ax.axhline(0, color='#222222', lw=0.7, ls='-.', zorder=1)
te, ve = xy(roc_ema)
ax.plot(te, ve, color=NAVY, lw=0.8, zorder=3)
t, v = xy(roc)
ax.plot(t, v, color='black', lw=1.0, zorder=3)
tag(ax, 0.30, '0.27', '#333333')
tag(ax, 0.10, '0.14', NAVY)
legend(1200, [('ROC(12) 0.27%', '#444444')], '#222222')
legend(1208, [('EMA(20) 0.14', NAVY)], NAVY)

# ---------------------------------------------------------------- BB Width
ax = panel(1325, 1456, (0.07, 3.0), 0.25, [2.75, 2.5, 2.25, 2.0, 1.75, 1.5, 1.25, 1.0, 0.75, 0.25],
           fmt='{:.2f}')
t, v = xy(bbw)
ax.plot(t, v, color='black', lw=1.0, zorder=3)
tag(ax, 0.40, '0.400', '#333333')
legend(1331, [('BB Width(20,2.0) 0.400', '#444444')], '#222222')

# ---------------------------------------------------------------- SLOPE
ax = panel(1456, 1589, (-3.16, 2.28), 0.25, [2.0, 1.5, 1.0, 0.0, -0.5, -1.0, -1.5, -2.0, -2.5, -3.0],
           fmt='{:.1f}')
ax.axhline(0, color='#222222', lw=0.7, ls='-.', zorder=1)
t, v = xy(slope)
ax.plot(t, v, color='black', lw=1.0, zorder=3)
tag(ax, 0.33, '0.33', '#333333')
legend(1462, [('SLOPE(20) 0.33', '#444444')], '#222222')
date_row(1594)

fig.savefig('out.png', dpi=100, facecolor='white')
